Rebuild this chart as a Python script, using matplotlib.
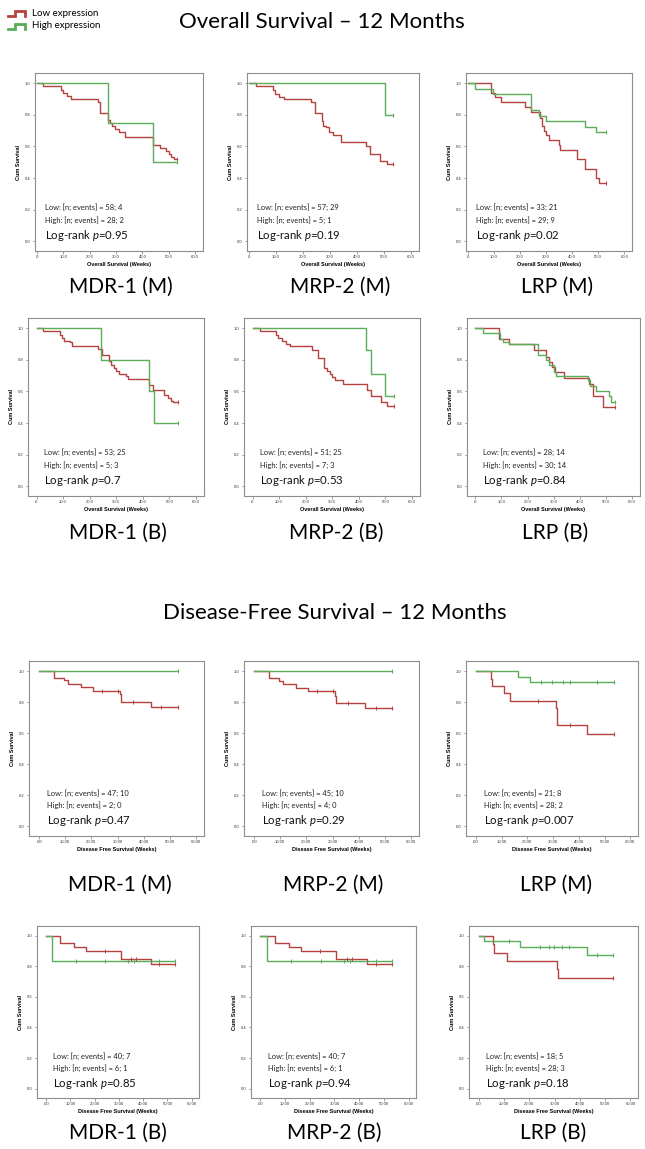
import numpy as np
import matplotlib
matplotlib.use("Agg")
import matplotlib.pyplot as plt
from matplotlib.lines import Line2D

# ── Datos ──────────────────────────────────────────────────────────────────────
# Overall Survival, muestra M
os_mdr1_m_low_t = [0, 2.4, 9.0, 9.8, 11.2, 13.0, 23.0, 24.0, 27.0, 27.8, 28.6, 29.5, 31.0, 33.5, 44.2, 46.5, 49.0, 50.0, 51.0, 52.0]
os_mdr1_m_low_s = [1.0, 0.98, 0.96, 0.94, 0.92, 0.90, 0.88, 0.81, 0.77, 0.75, 0.73, 0.71, 0.69, 0.66, 0.61, 0.59, 0.57, 0.55, 0.53, 0.52]
os_mdr1_m_high_t = [0, 27.0, 44.2]
os_mdr1_m_high_s = [1.0, 0.75, 0.50]

os_mrp2_m_low_t = [0, 2.6, 8.8, 9.5, 11.0, 13.0, 23.0, 24.5, 27.0, 27.5, 28.5, 29.5, 31.0, 34.0, 43.5, 45.0, 48.5, 51.0]
os_mrp2_m_low_s = [1.0, 0.98, 0.96, 0.93, 0.91, 0.90, 0.88, 0.81, 0.76, 0.73, 0.72, 0.69, 0.67, 0.63, 0.60, 0.55, 0.51, 0.49]
os_mrp2_m_high_t = [0, 50.3]
os_mrp2_m_high_s = [1.0, 0.80]

os_lrp_m_low_t = [0, 9.0, 10.5, 12.5, 22.0, 24.0, 27.5, 28.3, 29.0, 30.0, 31.0, 35.0, 35.5, 42.0, 45.0, 49.0, 50.5]
os_lrp_m_low_s = [1.0, 0.94, 0.91, 0.88, 0.85, 0.82, 0.78, 0.73, 0.70, 0.67, 0.64, 0.61, 0.58, 0.52, 0.46, 0.40, 0.37]
os_lrp_m_high_t = [0, 2.6, 9.5, 24.3, 27.3, 30.0, 45.0, 49.0]
os_lrp_m_high_s = [1.0, 0.965, 0.93, 0.83, 0.79, 0.76, 0.72, 0.69]

# Overall Survival, muestra B
os_mdr1_b_low_t = [0, 2.6, 9.0, 9.5, 10.5, 12.5, 13.5, 23.0, 24.5, 27.3, 28.0, 29.0, 30.0, 31.0, 33.5, 34.5, 42.5, 44.0, 48.0, 49.5, 50.5, 51.5]
os_mdr1_b_low_s = [1.0, 0.98, 0.96, 0.94, 0.92, 0.91, 0.89, 0.87, 0.83, 0.79, 0.77, 0.75, 0.73, 0.71, 0.70, 0.68, 0.64, 0.61, 0.58, 0.56, 0.54, 0.53]
os_mdr1_b_high_t = [0, 24.4, 42.5, 44.3]
os_mdr1_b_high_s = [1.0, 0.80, 0.60, 0.40]

os_mrp2_b_low_t = [0, 2.8, 9.0, 9.5, 11.0, 12.5, 14.0, 22.5, 24.5, 27.0, 28.0, 29.0, 30.0, 31.0, 34.0, 43.0, 44.5, 48.5, 50.5]
os_mrp2_b_low_s = [1.0, 0.98, 0.96, 0.94, 0.92, 0.90, 0.885, 0.865, 0.81, 0.75, 0.73, 0.71, 0.69, 0.67, 0.65, 0.61, 0.57, 0.53, 0.51]
os_mrp2_b_high_t = [0, 42.7, 44.7, 50.0]
os_mrp2_b_high_s = [1.0, 0.86, 0.71, 0.57]

os_lrp_b_low_t = [0, 9.0, 13.0, 22.5, 27.0, 28.3, 29.5, 30.5, 34.0, 43.5, 45.0, 49.0]
os_lrp_b_low_s = [1.0, 0.93, 0.90, 0.86, 0.82, 0.785, 0.755, 0.72, 0.685, 0.65, 0.57, 0.50]
os_lrp_b_high_t = [0, 2.8, 9.3, 10.5, 13.0, 24.0, 27.0, 28.0, 30.0, 31.0, 43.0, 44.0, 46.0, 51.0, 52.0]
os_lrp_b_high_s = [1.0, 0.97, 0.93, 0.91, 0.90, 0.83, 0.80, 0.765, 0.725, 0.70, 0.67, 0.635, 0.60, 0.57, 0.535]

# Disease-Free Survival, muestra M
dfs_mdr1_m_low_t = [0, 5.6, 9.4, 11.0, 15.9, 20.6, 30.8, 31.2, 42.8]
dfs_mdr1_m_low_s = [1.0, 0.958, 0.943, 0.916, 0.895, 0.873, 0.85, 0.80, 0.77]
dfs_mdr1_m_low_c = [24.1, 30.1, 35.8, 46.6, 53.1]
dfs_mdr1_m_high_t = [0]
dfs_mdr1_m_high_s = [1.0]
dfs_mdr1_m_high_c = [53.1]

dfs_mrp2_m_low_t = [0, 5.6, 9.4, 11.0, 15.9, 20.6, 30.8, 31.2, 42.5]
dfs_mrp2_m_low_s = [1.0, 0.956, 0.939, 0.916, 0.892, 0.87, 0.84, 0.795, 0.764]
dfs_mrp2_m_low_c = [24.0, 30.0, 36.0, 46.6, 52.8]
dfs_mrp2_m_high_t = [0]
dfs_mrp2_m_high_s = [1.0]
dfs_mrp2_m_high_c = [52.8]

dfs_lrp_m_low_t = [0, 5.8, 6.2, 11.1, 13.2, 31.1, 31.4, 43.3]
dfs_lrp_m_low_s = [1.0, 0.95, 0.907, 0.86, 0.807, 0.76, 0.655, 0.594]
dfs_lrp_m_low_c = [24.3, 36.5, 53.8]
dfs_lrp_m_high_t = [0, 16.4, 21.0]
dfs_lrp_m_high_s = [1.0, 0.965, 0.928]
dfs_lrp_m_high_c = [25.3, 29.7, 33.9, 36.7, 47.1, 53.8]

# Disease-Free Survival, muestra B
dfs_mdr1_b_low_t = [0, 5.8, 11.5, 16.4, 30.8, 43.1]
dfs_mdr1_b_low_s = [1.0, 0.954, 0.928, 0.902, 0.848, 0.815]
dfs_mdr1_b_low_c = [24.1, 35.1, 37.0, 46.7, 53.2]
dfs_mdr1_b_high_t = [0, 2.5]
dfs_mdr1_b_high_s = [1.0, 0.837]
dfs_mdr1_b_high_c = [12.3, 24.4, 33.8, 36.4, 46.7, 53.2]

dfs_mrp2_b_low_t = [0, 5.8, 11.5, 16.4, 30.8, 43.1]
dfs_mrp2_b_low_s = [1.0, 0.954, 0.928, 0.902, 0.848, 0.815]
dfs_mrp2_b_low_c = [24.1, 35.1, 37.0, 46.7, 53.2]
dfs_mrp2_b_high_t = [0, 2.5]
dfs_mrp2_b_high_s = [1.0, 0.837]
dfs_mrp2_b_high_c = [12.3, 24.4, 33.8, 36.4, 46.7, 53.2]

dfs_lrp_b_low_t = [0, 5.8, 6.2, 11.3, 31.0, 31.4]
dfs_lrp_b_low_s = [1.0, 0.945, 0.89, 0.833, 0.78, 0.722]
dfs_lrp_b_low_c = [53.2]
dfs_lrp_b_high_t = [0, 2.2, 16.5, 42.9]
dfs_lrp_b_high_s = [1.0, 0.965, 0.926, 0.872]
dfs_lrp_b_high_c = [12.0, 24.4, 27.9, 29.9, 33.1, 35.7, 46.8, 53.2]

# Fin de seguimiento por panel
os_end = [53.0, 53.5, 53.0, 53.3, 53.3, 53.3]
dfs_end = [53.1, 52.8, 53.8, 53.2, 53.2, 53.2]

# Textos
os_names = ["MDR-1 (M)", "MRP-2 (M)", "LRP (M)", "MDR-1 (B)", "MRP-2 (B)", "LRP (B)"]
dfs_names = ["MDR-1 (M)", "MRP-2 (M)", "LRP (M)", "MDR-1 (B)", "MRP-2 (B)", "LRP (B)"]
os_low_n = ["58; 4", "57; 29", "33; 21", "53; 25", "51; 25", "28; 14"]
os_high_n = ["28; 2", "5; 1", "29; 9", "5; 3", "7; 3", "30; 14"]
os_p = ["0.95", "0.19", "0.02", "0.7", "0.53", "0.84"]
dfs_low_n = ["47; 10", "45; 10", "21; 8", "40; 7", "40; 7", "18; 5"]
dfs_high_n = ["2; 0", "4; 0", "28; 2", "6; 1", "6; 1", "28; 3"]
dfs_p = ["0.47", "0.29", "0.007", "0.85", "0.94", "0.18"]

x_ticks = [0, 10, 20, 30, 40, 50, 60]
os_xlabels = [".0", "10.0", "20.0", "30.0", "40.0", "50.0", "60.0"]
dfs_xlabels = [".00", "10.00", "20.00", "30.00", "40.00", "50.00", "60.00"]
y_ticks = [0.0, 0.2, 0.4, 0.6, 0.8, 1.0]
y_labels = ["0.0", "0.2", "0.4", "0.6", "0.8", "1.0"]

os_curves = [
    (os_mdr1_m_low_t, os_mdr1_m_low_s, os_mdr1_m_high_t, os_mdr1_m_high_s),
    (os_mrp2_m_low_t, os_mrp2_m_low_s, os_mrp2_m_high_t, os_mrp2_m_high_s),
    (os_lrp_m_low_t, os_lrp_m_low_s, os_lrp_m_high_t, os_lrp_m_high_s),
    (os_mdr1_b_low_t, os_mdr1_b_low_s, os_mdr1_b_high_t, os_mdr1_b_high_s),
    (os_mrp2_b_low_t, os_mrp2_b_low_s, os_mrp2_b_high_t, os_mrp2_b_high_s),
    (os_lrp_b_low_t, os_lrp_b_low_s, os_lrp_b_high_t, os_lrp_b_high_s),
]
dfs_curves = [
    (dfs_mdr1_m_low_t, dfs_mdr1_m_low_s, dfs_mdr1_m_low_c, dfs_mdr1_m_high_t, dfs_mdr1_m_high_s, dfs_mdr1_m_high_c),
    (dfs_mrp2_m_low_t, dfs_mrp2_m_low_s, dfs_mrp2_m_low_c, dfs_mrp2_m_high_t, dfs_mrp2_m_high_s, dfs_mrp2_m_high_c),
    (dfs_lrp_m_low_t, dfs_lrp_m_low_s, dfs_lrp_m_low_c, dfs_lrp_m_high_t, dfs_lrp_m_high_s, dfs_lrp_m_high_c),
    (dfs_mdr1_b_low_t, dfs_mdr1_b_low_s, dfs_mdr1_b_low_c, dfs_mdr1_b_high_t, dfs_mdr1_b_high_s, dfs_mdr1_b_high_c),
    (dfs_mrp2_b_low_t, dfs_mrp2_b_low_s, dfs_mrp2_b_low_c, dfs_mrp2_b_high_t, dfs_mrp2_b_high_s, dfs_mrp2_b_high_c),
    (dfs_lrp_b_low_t, dfs_lrp_b_low_s, dfs_lrp_b_low_c, dfs_lrp_b_high_t, dfs_lrp_b_high_s, dfs_lrp_b_high_c),
]

# ── Estilo ─────────────────────────────────────────────────────────────────────
W, H = 645, 1149
RED = "#B5423F"
GREEN = "#5BAD58"
FRAME = "#8E8E8E"
TXT_FONT = ["Lato", "DejaVu Sans"]
AX_FONT = ["Liberation Sans", "DejaVu Sans"]

plt.rcParams["mathtext.fontset"] = "custom"
plt.rcParams["mathtext.rm"] = "Lato"
plt.rcParams["mathtext.it"] = "Lato:italic"

fig = plt.figure(figsize=(W / 100, H / 100), dpi=100, facecolor="white")

# cajas de paneles en píxeles: (izq, der) por columna, (arriba, abajo) por fila
row_box = [(73, 251), (318, 496), (661, 836), (926, 1098)]
col_box = [
    [(35, 203), (247, 419), (466, 632)],
    [(28, 204), (244, 420), (467, 640)],
    [(29, 204), (244, 419), (466, 638)],
    [(37, 199), (251, 416), (469, 638)],
]
row_xmin = [-0.8, -3.2, -3.8, -3.8]
label_y = [287, 533, 885, 1133]
label_x = [
    [121, 340, 557],
    [118, 336, 555],
    [120, 333, 556],
    [118, 334, 553],
]


def px_axes(left, top, right, bottom):
    return fig.add_axes([left / W, 1 - bottom / H, (right - left) / W, (bottom - top) / H])


def km_line(ax, times, surv, end, censor, color):
    t = list(times) + [end]
    s = list(surv) + [surv[-1]]
    ax.step(t, s, where="post", color=color, lw=1.0, zorder=3)
    cs = [surv[np.searchsorted(times, c, side="right") - 1] for c in censor]
    ax.plot(censor, cs, ls="none", marker="|", ms=3.2, mew=0.7, color=color, zorder=4)


def style_panel(ax, xmin, xlabels, xtitle):
    ax.set_xlim(xmin, 63)
    ax.set_ylim(-0.062, 1.065)
    ax.set_xticks(x_ticks)
    ax.set_xticklabels(xlabels, fontsize=3.0, family=AX_FONT)
    ax.set_yticks(y_ticks)
    ax.set_yticklabels(y_labels, fontsize=3.0, family=AX_FONT)
    ax.tick_params(length=1.8, width=0.4, pad=1.2, color="#555555", labelcolor="#333333")
    for sp in ax.spines.values():
        sp.set_color(FRAME)
        sp.set_linewidth(0.8)
    ax.set_ylabel("Cum Survival", fontsize=4.0, fontweight="bold", family=AX_FONT, labelpad=3)
    ax.set_xlabel(xtitle, fontsize=4.0, fontweight="bold", family=AX_FONT, labelpad=2)


def panel_text(ax, low, high, p):
    ax.text(3, 0.215, f"Low: [n; events] = {low}", fontsize=5.4, family=TXT_FONT,
            va="center", color="#222222")
    ax.text(3, 0.135, f"High: [n; events] = {high}", fontsize=5.4, family=TXT_FONT,
            va="center", color="#222222")
    ax.text(3, 0.035, f"Log-rank $p$=${p}$", fontsize=8.2, family=TXT_FONT,
            va="center", color="#111111")


# ── Paneles ────────────────────────────────────────────────────────────────────
for i in range(6):
    r, c = divmod(i, 3)
    # Overall Survival
    (l, rgt), (top, bot) = col_box[r][c], row_box[r]
    ax = px_axes(l, top, rgt, bot)
    lt, ls, ht, hs = os_curves[i]
    km_line(ax, lt, ls, os_end[i], [os_end[i]], RED)
    km_line(ax, ht, hs, os_end[i], [os_end[i]], GREEN)
    style_panel(ax, row_xmin[r], os_xlabels, "Overall Survival (Weeks)")
    panel_text(ax, os_low_n[i], os_high_n[i], os_p[i])
    fig.text(label_x[r][c] / W, 1 - label_y[r] / H, os_names[i], fontsize=15,
             family=TXT_FONT, ha="center", va="center")

    # Disease-Free Survival
    r2 = r + 2
    (l, rgt), (top, bot) = col_box[r2][c], row_box[r2]
    ax = px_axes(l, top, rgt, bot)
    lt, ls, lc, ht, hs, hc = dfs_curves[i]
    km_line(ax, lt, ls, dfs_end[i], lc, RED)
    km_line(ax, ht, hs, dfs_end[i], hc, GREEN)
    style_panel(ax, row_xmin[r2], dfs_xlabels, "Disease Free Survival (Weeks)")
    panel_text(ax, dfs_low_n[i], dfs_high_n[i], dfs_p[i])
    fig.text(label_x[r2][c] / W, 1 - label_y[r2] / H, dfs_names[i], fontsize=15,
             family=TXT_FONT, ha="center", va="center")

# ── Títulos ────────────────────────────────────────────────────────────────────
fig.text(322 / W, 1 - 22 / H, "Overall Survival – 12 Months", fontsize=16,
         family=TXT_FONT, ha="center", va="center")
fig.text(335 / W, 1 - 613 / H, "Disease-Free Survival – 12 Months", fontsize=16,
         family=TXT_FONT, ha="center", va="center")

# ── Leyenda ────────────────────────────────────────────────────────────────────
for y0, color, label in [(13, RED, "Low expression"), (26, GREEN, "High expression")]:
    xs = np.array([8, 15, 15, 25, 25]) / W
    ys = 1 - np.array([y0 + 2.5, y0 + 2.5, y0 - 2, y0 - 2, y0 + 2.5]) / H
    fig.add_artist(Line2D(xs, ys, transform=fig.transFigure, color=color, lw=2.0,
                          solid_joinstyle="miter"))
    fig.text(32 / W, 1 - y0 / H, label, fontsize=7, family=TXT_FONT, va="center")

fig.savefig("out.png", dpi=100, facecolor="white")
